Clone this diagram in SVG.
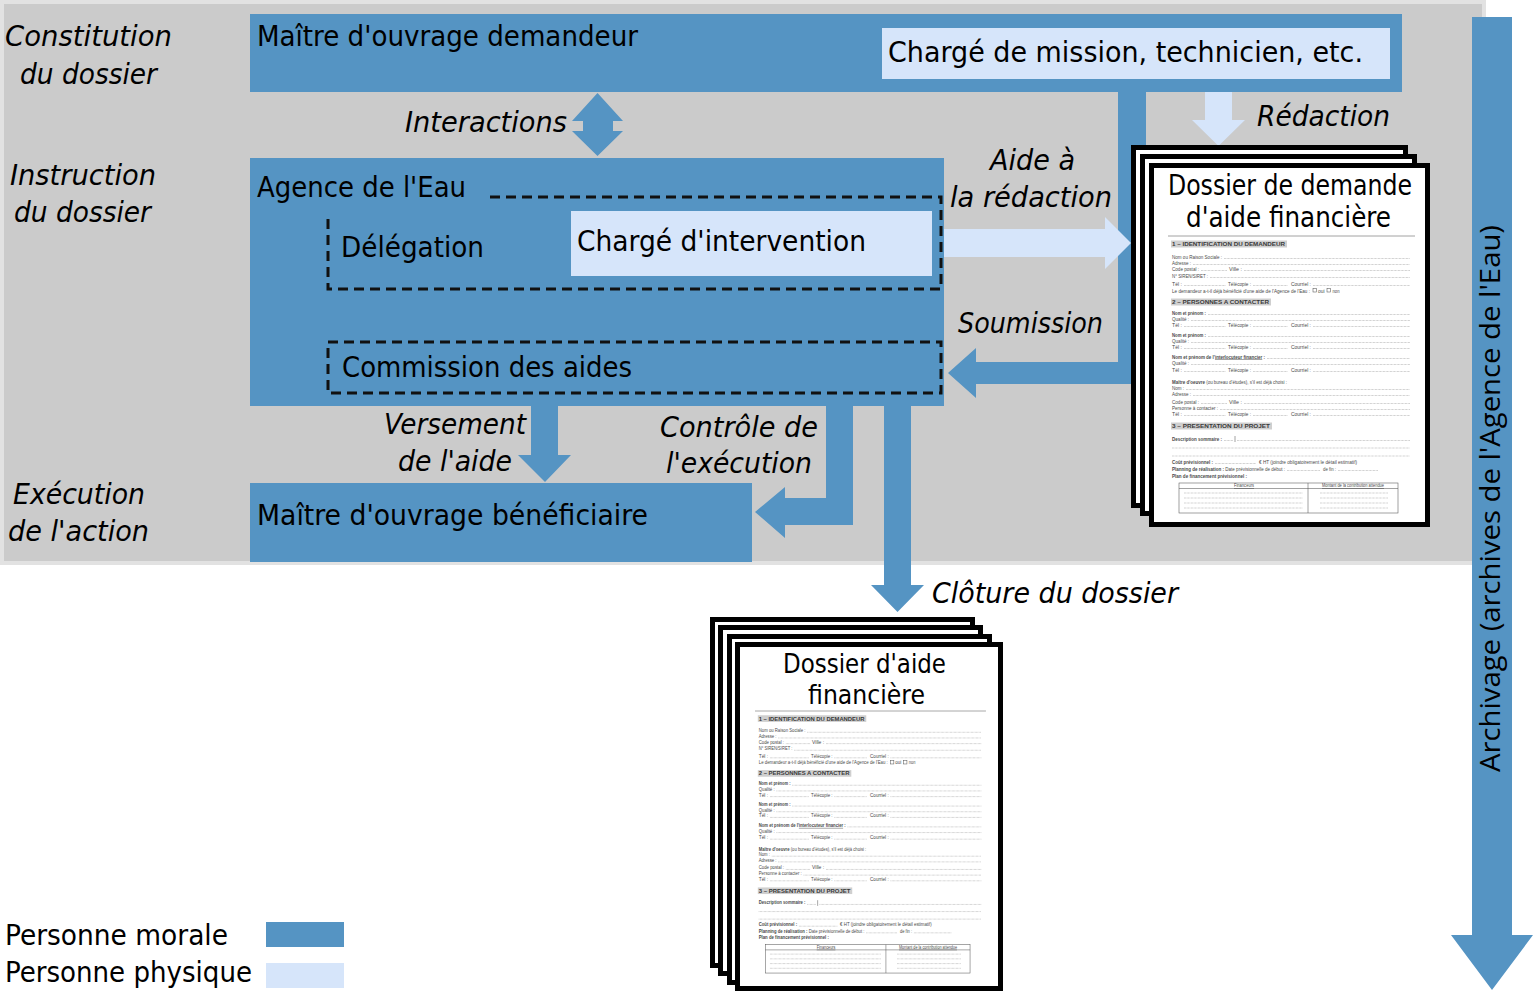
<svg xmlns="http://www.w3.org/2000/svg" xmlns:xlink="http://www.w3.org/1999/xlink" width="1533" height="991" viewBox="0 0 1533 991">
<style>
.t{font-family:'DejaVu Sans Condensed','DejaVu Sans',sans-serif;font-stretch:condensed;font-size:29px;fill:#000}
.tt{font-size:27px}
.i{font-style:italic}
.side{font-family:'DejaVu Sans',sans-serif;font-style:oblique;font-size:27.5px;fill:#000}
.arch{font-family:'Open Sans','DejaVu Sans',sans-serif;font-size:28px;fill:#000}
.dk{fill:#5594c3}
.lt{fill:#d6e5fa}
.dash{fill:none;stroke:#111;stroke-width:3;stroke-dasharray:10 6}
.page{fill:#fff;stroke:#000;stroke-width:5}
.f{font-family:'Liberation Sans',Arial,sans-serif;font-size:5px;fill:#4a4a4a}
.fh{font-family:'Liberation Sans',Arial,sans-serif;font-size:6px;font-weight:bold;fill:#3a3a3a}
.fb{font-weight:bold}
.hl{fill:#cfcfcf}
.dl{fill:none;stroke:#8a8a8a;stroke-width:0.55;stroke-dasharray:0.7 0.7}
.ln{fill:none;stroke:#555;stroke-width:0.55}
.ul{text-decoration:underline}
</style>
<defs>
<g id="form">
<line class="ln" x1="0" y1="0" x2="247" y2="0" stroke="#999"/>
<rect class="hl" x="3" y="4.5" width="116" height="7"/>
<text class="fh" x="4" y="10.2" textLength="113" lengthAdjust="spacingAndGlyphs">1 – IDENTIFICATION DU DEMANDEUR</text>
<text class="f" x="4" y="22.5" textLength="50" lengthAdjust="spacingAndGlyphs">Nom ou Raison Sociale :</text>
<text class="f" x="4" y="28.5" textLength="19" lengthAdjust="spacingAndGlyphs">Adresse :</text>
<text class="f" x="4" y="34.5" textLength="27" lengthAdjust="spacingAndGlyphs">Code postal :</text>
<text class="f" x="61" y="34.5" textLength="13" lengthAdjust="spacingAndGlyphs">Ville :</text>
<text class="f" x="4" y="41.5" textLength="36" lengthAdjust="spacingAndGlyphs">N° SIREN/SIRET :</text>
<text class="f" x="4" y="49.5" textLength="10" lengthAdjust="spacingAndGlyphs">Tél :</text>
<text class="f" x="60" y="49.5" textLength="23" lengthAdjust="spacingAndGlyphs">Télécopie :</text>
<text class="f" x="123" y="49.5" textLength="20" lengthAdjust="spacingAndGlyphs">Courriel :</text>
<text class="f" x="4" y="56.5" textLength="138" lengthAdjust="spacingAndGlyphs">Le demandeur a-t-il déjà bénéficié d'une aide de l'Agence de l'Eau :</text>
<rect class="ln" x="145" y="52.5" width="3.5" height="3.5"/>
<text class="f" x="150" y="56.5" textLength="6.5" lengthAdjust="spacingAndGlyphs">oui</text>
<rect class="ln" x="159" y="52.5" width="3.5" height="3.5"/>
<text class="f" x="164.5" y="56.5" textLength="7" lengthAdjust="spacingAndGlyphs">non</text>
<rect class="hl" x="3" y="62.5" width="100" height="7"/>
<text class="fh" x="4" y="68" textLength="97" lengthAdjust="spacingAndGlyphs">2 – PERSONNES A CONTACTER</text>
<text class="f fb" x="4" y="78.5" textLength="34" lengthAdjust="spacingAndGlyphs">Nom et prénom :</text>
<text class="f" x="4" y="84.5" textLength="17" lengthAdjust="spacingAndGlyphs">Qualité :</text>
<text class="f" x="4" y="90.5" textLength="10" lengthAdjust="spacingAndGlyphs">Tél :</text>
<text class="f" x="60" y="90.5" textLength="23" lengthAdjust="spacingAndGlyphs">Télécopie :</text>
<text class="f" x="123" y="90.5" textLength="20" lengthAdjust="spacingAndGlyphs">Courriel :</text>
<text class="f fb" x="4" y="100.5" textLength="34" lengthAdjust="spacingAndGlyphs">Nom et prénom :</text>
<text class="f" x="4" y="106.5" textLength="17" lengthAdjust="spacingAndGlyphs">Qualité :</text>
<text class="f" x="4" y="112.5" textLength="10" lengthAdjust="spacingAndGlyphs">Tél :</text>
<text class="f" x="60" y="112.5" textLength="23" lengthAdjust="spacingAndGlyphs">Télécopie :</text>
<text class="f" x="123" y="112.5" textLength="20" lengthAdjust="spacingAndGlyphs">Courriel :</text>
<text class="f fb" x="4" y="122.5" textLength="93" lengthAdjust="spacingAndGlyphs">Nom et prénom de l'<tspan class="ul">interlocuteur financier</tspan> :</text>
<text class="f" x="4" y="128.5" textLength="17" lengthAdjust="spacingAndGlyphs">Qualité :</text>
<text class="f" x="4" y="135.5" textLength="10" lengthAdjust="spacingAndGlyphs">Tél :</text>
<text class="f" x="60" y="135.5" textLength="23" lengthAdjust="spacingAndGlyphs">Télécopie :</text>
<text class="f" x="123" y="135.5" textLength="20" lengthAdjust="spacingAndGlyphs">Courriel :</text>
<text class="f" x="4" y="147.5" textLength="115" lengthAdjust="spacingAndGlyphs"><tspan class="fb">Maître d'oeuvre</tspan> (ou bureau d'études), s'il est déjà choisi :</text>
<text class="f" x="4" y="153.5" textLength="12" lengthAdjust="spacingAndGlyphs">Nom :</text>
<text class="f" x="4" y="159.5" textLength="19" lengthAdjust="spacingAndGlyphs">Adresse :</text>
<text class="f" x="4" y="167.5" textLength="27" lengthAdjust="spacingAndGlyphs">Code postal :</text>
<text class="f" x="61" y="167.5" textLength="13" lengthAdjust="spacingAndGlyphs">Ville :</text>
<text class="f" x="4" y="173.5" textLength="46" lengthAdjust="spacingAndGlyphs">Personne à contacter :</text>
<text class="f" x="4" y="179.5" textLength="10" lengthAdjust="spacingAndGlyphs">Tél :</text>
<text class="f" x="60" y="179.5" textLength="23" lengthAdjust="spacingAndGlyphs">Télécopie :</text>
<text class="f" x="123" y="179.5" textLength="20" lengthAdjust="spacingAndGlyphs">Courriel :</text>
<rect class="hl" x="3" y="186.5" width="101" height="7"/>
<text class="fh" x="4" y="192" textLength="98" lengthAdjust="spacingAndGlyphs">3 – PRESENTATION DU PROJET</text>
<text class="f fb" x="4" y="204.5" textLength="50" lengthAdjust="spacingAndGlyphs">Description sommaire :</text>
<line class="ln" x1="67" y1="200" x2="67" y2="206"/>
<text class="f fb" x="4" y="227.5" textLength="41" lengthAdjust="spacingAndGlyphs">Coût prévisionnel :</text>
<text class="f" x="91" y="227.5" textLength="98" lengthAdjust="spacingAndGlyphs">€ HT (joindre obligatoirement le détail estimatif)</text>
<text class="f" x="4" y="234.5" textLength="113" lengthAdjust="spacingAndGlyphs"><tspan class="fb">Planning de réalisation :</tspan> Date prévisionnelle de début :</text>
<text class="f" x="155" y="234.5" textLength="13" lengthAdjust="spacingAndGlyphs">de fin :</text>
<text class="f fb" x="4" y="241.5" textLength="75" lengthAdjust="spacingAndGlyphs">Plan de financement prévisionnel :</text>
<rect class="ln" x="11" y="247" width="219" height="30"/>
<line class="ln" x1="11" y1="252.5" x2="230" y2="252.5"/>
<line class="ln" x1="140" y1="247" x2="140" y2="277"/>
<text class="f ul" x="76" y="251.3" font-size="4.2" text-anchor="middle" textLength="20" lengthAdjust="spacingAndGlyphs">Financeurs</text>
<text class="f ul" x="185" y="251.3" font-size="4.2" text-anchor="middle" textLength="62" lengthAdjust="spacingAndGlyphs">Montant de la contribution attendue</text>
<path class="dl" d="M56,22.5H242M25,28.5H242M33,34.5H59M76,34.5H242M42,41.5H242M16,49.5H58M85,49.5H120M145,49.5H242M40,78.5H242M23,84.5H242M16,90.5H58M85,90.5H120M145,90.5H242M40,100.5H242M23,106.5H242M16,112.5H58M85,112.5H120M145,112.5H242M99,122.5H242M23,128.5H242M16,135.5H58M85,135.5H120M145,135.5H242M18,153.5H242M25,159.5H242M33,167.5H59M76,167.5H242M52,173.5H242M16,179.5H58M85,179.5H120M145,179.5H242M56,204.5H65M69,204.5H242M4,212H242M4,220H242M47,227.5H88M119,234.5H152M170,234.5H210M16,257H135M16,262H135M16,267H135M16,272H135M152,257H220M152,262H220M152,267H220M152,272H220"/>
</g>
</defs>

<rect x="2" y="2" width="1482" height="561" fill="#cbcbcb" stroke="#e2e2e2" stroke-width="4"/>

<g id="phases">
<text class="side" x="5" y="46" textLength="167" lengthAdjust="spacingAndGlyphs">Constitution</text>
<text class="side" x="20" y="84" textLength="137" lengthAdjust="spacingAndGlyphs">du dossier</text>
<text class="side" x="10" y="185" textLength="146" lengthAdjust="spacingAndGlyphs">Instruction</text>
<text class="side" x="14" y="222" textLength="137" lengthAdjust="spacingAndGlyphs">du dossier</text>
<text class="side" x="13" y="504" textLength="132" lengthAdjust="spacingAndGlyphs">Exécution</text>
<text class="side" x="8" y="541" textLength="141" lengthAdjust="spacingAndGlyphs">de l'action</text>
</g>

<g id="connectors">
<path class="dk" d="M1118,92H1146V384H976V398L948,373L976,348V362H1118Z"/>
<path class="dk" d="M583,121H572L597.5,93L623,121H613V131H623L597.5,156L572,131H583Z"/>
<path class="dk" d="M531,405H558V455H571L545,482L518,455H531Z"/>
<path class="dk" d="M826,405H853V525H785V538L755,512L785,487V498H826Z"/>
<path class="dk" d="M884,405H911V585H924L897.5,612L871,585H884Z"/>
<path class="lt" d="M1205,78H1232V120H1245L1218.5,146L1192,120H1205Z"/>
<path class="lt" d="M944,229H1105V217L1131,243L1105,269V257H944Z"/>
<path class="dk" d="M1472,17H1512V935H1533L1492,990L1451,935H1472Z"/>
</g>

<g id="maitre-demandeur">
<rect class="dk" x="250" y="14" width="1152" height="78"/>
<text class="t" x="257" y="46" textLength="381" lengthAdjust="spacingAndGlyphs">Maître d'ouvrage demandeur</text>
</g>
<g id="charge-mission">
<rect class="lt" x="882" y="28" width="508" height="51"/>
<text class="t" x="888" y="62" textLength="475" lengthAdjust="spacingAndGlyphs">Chargé de mission, technicien, etc.</text>
</g>

<g id="agence">
<rect class="dk" x="250" y="158" width="694" height="248"/>
<text class="t" x="257" y="197" textLength="209" lengthAdjust="spacingAndGlyphs">Agence de l'Eau</text>
</g>
<g id="delegation">
<path class="dash" d="M490,197H941V289H328V215"/>
<text class="t" x="341" y="257" textLength="143" lengthAdjust="spacingAndGlyphs">Délégation</text>
</g>
<g id="charge-intervention">
<rect class="lt" x="571" y="211" width="361" height="65"/>
<text class="t" x="577" y="251" textLength="289" lengthAdjust="spacingAndGlyphs">Chargé d'intervention</text>
</g>
<g id="commission">
<rect class="dash" x="328" y="342" width="613" height="51"/>
<text class="t" x="342" y="377" textLength="290" lengthAdjust="spacingAndGlyphs">Commission des aides</text>
</g>

<g id="maitre-beneficiaire">
<rect class="dk" x="250" y="483" width="502" height="79"/>
<text class="t" x="257" y="525" textLength="391" lengthAdjust="spacingAndGlyphs">Maître d'ouvrage bénéficiaire</text>
</g>

<g id="labels">
<text class="t i" x="405" y="132" textLength="162" lengthAdjust="spacingAndGlyphs">Interactions</text>
<text class="t i" x="1257" y="126" textLength="133" lengthAdjust="spacingAndGlyphs">Rédaction</text>
<text class="t i" x="990" y="170" textLength="85" lengthAdjust="spacingAndGlyphs">Aide à</text>
<text class="t i" x="950" y="207" textLength="162" lengthAdjust="spacingAndGlyphs">la rédaction</text>
<text class="t i" x="958" y="333" textLength="145" lengthAdjust="spacingAndGlyphs">Soumission</text>
<text class="t i" x="384" y="434" textLength="142" lengthAdjust="spacingAndGlyphs">Versement</text>
<text class="t i" x="398" y="471" textLength="114" lengthAdjust="spacingAndGlyphs">de l'aide</text>
<text class="t i" x="660" y="437" textLength="158" lengthAdjust="spacingAndGlyphs">Contrôle de</text>
<text class="t i" x="666" y="473" textLength="146" lengthAdjust="spacingAndGlyphs">l'exécution</text>
<text class="t i" x="932" y="603" textLength="246" lengthAdjust="spacingAndGlyphs">Clôture du dossier</text>
<text class="arch" transform="translate(1500,772) rotate(-90)" x="0" y="0" textLength="547" lengthAdjust="spacingAndGlyphs">Archivage (archives de l'Agence de l'Eau)</text>
</g>

<g id="dossier-demande">
<rect class="page" x="1133.5" y="147.5" width="272" height="358"/>
<rect class="page" x="1142.5" y="156.5" width="272" height="357"/>
<rect class="page" x="1151.5" y="165.5" width="276" height="359"/>
<text class="t" x="1290" y="195" text-anchor="middle" textLength="244" lengthAdjust="spacingAndGlyphs">Dossier de demande</text>
<text class="t" x="1288.5" y="227" text-anchor="middle" textLength="205" lengthAdjust="spacingAndGlyphs">d'aide financière</text>
<use xlink:href="#form" href="#form" transform="translate(1168,236)"/>
</g>

<g id="dossier-aide">
<rect class="page" x="712.5" y="619.5" width="260" height="346"/>
<rect class="page" x="720.5" y="627.5" width="260" height="346"/>
<rect class="page" x="729.5" y="636.5" width="260" height="346"/>
<rect class="page" x="737.5" y="644.5" width="263" height="344"/>
<text class="t tt" x="864.5" y="673" text-anchor="middle" textLength="163" lengthAdjust="spacingAndGlyphs">Dossier d'aide</text>
<text class="t tt" x="866.5" y="704" text-anchor="middle" textLength="117" lengthAdjust="spacingAndGlyphs">financière</text>
<use xlink:href="#form" href="#form" transform="translate(755,711) scale(0.935,0.946)"/>
</g>

<g id="legend">
<text class="t" x="5" y="945" textLength="223" lengthAdjust="spacingAndGlyphs">Personne morale</text>
<rect class="dk" x="266" y="922" width="78" height="25"/>
<text class="t" x="5" y="982" textLength="247" lengthAdjust="spacingAndGlyphs">Personne physique</text>
<rect class="lt" x="266" y="963" width="78" height="25"/>
</g>
</svg>
